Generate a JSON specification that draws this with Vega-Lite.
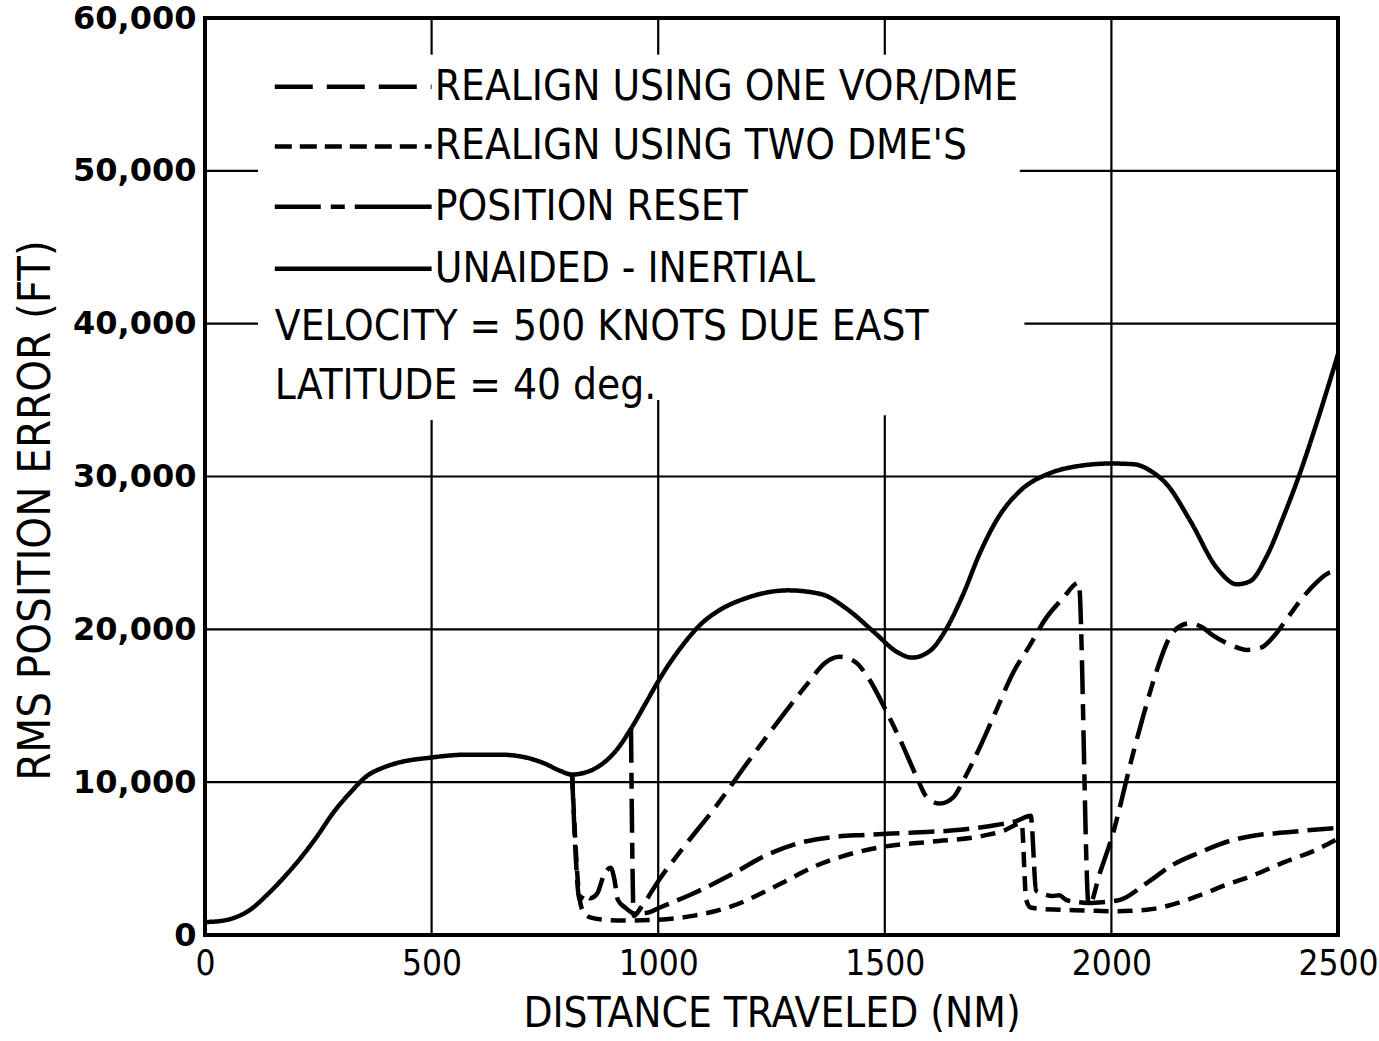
{
  "$schema": "https://vega.github.io/schema/vega-lite/v6.json",
  "width": 1133,
  "height": 917,
  "autosize": {"type": "none"},
  "padding": {"left": 205, "top": 18, "right": 41, "bottom": 106},
  "background": "white",
  "config": {
    "view": {"stroke": "black", "strokeWidth": 4},
    "text": {"font": "DejaVu Sans Condensed, sans-serif", "fontSize": 42, "color": "black"}
  },
  "datasets": {
    "grid": [
      {"x": 500, "x2": 500, "y": 0, "y2": 33700},
      {"x": 500, "x2": 500, "y": 57600, "y2": 60000},
      {"x": 1000, "x2": 1000, "y": 0, "y2": 35000},
      {"x": 1000, "x2": 1000, "y": 57600, "y2": 60000},
      {"x": 1500, "x2": 1500, "y": 0, "y2": 34000},
      {"x": 1500, "x2": 1500, "y": 57600, "y2": 60000},
      {"x": 2000, "x2": 2000, "y": 0, "y2": 60000},
      {"x": 0, "x2": 2500, "y": 10000, "y2": 10000},
      {"x": 0, "x2": 2500, "y": 20000, "y2": 20000},
      {"x": 0, "x2": 2500, "y": 30000, "y2": 30000},
      {"x": 0, "x2": 117, "y": 40000, "y2": 40000},
      {"x": 1808, "x2": 2500, "y": 40000, "y2": 40000},
      {"x": 0, "x2": 117, "y": 50000, "y2": 50000},
      {"x": 1798, "x2": 2500, "y": 50000, "y2": 50000}
    ],
    "curves": [
      {"s": "inertial", "d": 0, "v": 850}, {"s": "inertial", "d": 30, "v": 900}, {"s": "inertial", "d": 62, "v": 1100}, {"s": "inertial", "d": 99, "v": 1640},
      {"s": "inertial", "d": 136, "v": 2600}, {"s": "inertial", "d": 172, "v": 3700}, {"s": "inertial", "d": 210, "v": 5000}, {"s": "inertial", "d": 246, "v": 6400},
      {"s": "inertial", "d": 283, "v": 8000}, {"s": "inertial", "d": 320, "v": 9300}, {"s": "inertial", "d": 357, "v": 10400}, {"s": "inertial", "d": 393, "v": 10950},
      {"s": "inertial", "d": 430, "v": 11300}, {"s": "inertial", "d": 496, "v": 11600}, {"s": "inertial", "d": 577, "v": 11800}, {"s": "inertial", "d": 651, "v": 11800},
      {"s": "inertial", "d": 702, "v": 11650}, {"s": "inertial", "d": 747, "v": 11250}, {"s": "inertial", "d": 783, "v": 10750}, {"s": "inertial", "d": 810, "v": 10500},
      {"s": "inertial", "d": 835, "v": 10600}, {"s": "inertial", "d": 872, "v": 11100}, {"s": "inertial", "d": 908, "v": 12100}, {"s": "inertial", "d": 940, "v": 13500},
      {"s": "inertial", "d": 975, "v": 15300}, {"s": "inertial", "d": 1000, "v": 16600}, {"s": "inertial", "d": 1055, "v": 19000}, {"s": "inertial", "d": 1100, "v": 20500},
      {"s": "inertial", "d": 1127, "v": 21100}, {"s": "inertial", "d": 1200, "v": 22100}, {"s": "inertial", "d": 1287, "v": 22550}, {"s": "inertial", "d": 1360, "v": 22300},
      {"s": "inertial", "d": 1418, "v": 21300}, {"s": "inertial", "d": 1477, "v": 19800}, {"s": "inertial", "d": 1528, "v": 18500}, {"s": "inertial", "d": 1560, "v": 18150},
      {"s": "inertial", "d": 1600, "v": 18600}, {"s": "inertial", "d": 1637, "v": 20100}, {"s": "inertial", "d": 1673, "v": 22300}, {"s": "inertial", "d": 1710, "v": 25000},
      {"s": "inertial", "d": 1750, "v": 27300}, {"s": "inertial", "d": 1800, "v": 29100}, {"s": "inertial", "d": 1863, "v": 30200}, {"s": "inertial", "d": 1920, "v": 30650},
      {"s": "inertial", "d": 2000, "v": 30850}, {"s": "inertial", "d": 2050, "v": 30800}, {"s": "inertial", "d": 2090, "v": 30300}, {"s": "inertial", "d": 2122, "v": 29500},
      {"s": "inertial", "d": 2174, "v": 27100}, {"s": "inertial", "d": 2233, "v": 24000}, {"s": "inertial", "d": 2277, "v": 22950}, {"s": "inertial", "d": 2306, "v": 23150},
      {"s": "inertial", "d": 2343, "v": 24800}, {"s": "inertial", "d": 2380, "v": 27400}, {"s": "inertial", "d": 2417, "v": 30300}, {"s": "inertial", "d": 2454, "v": 33600},
      {"s": "inertial", "d": 2500, "v": 38000},

      {"s": "reset", "d": 940, "v": 13500}, {"s": "reset", "d": 946, "v": 1250}, {"s": "reset", "d": 962, "v": 1800}, {"s": "reset", "d": 1004, "v": 3700},
      {"s": "reset", "d": 1055, "v": 5700}, {"s": "reset", "d": 1127, "v": 8400}, {"s": "reset", "d": 1200, "v": 11400}, {"s": "reset", "d": 1273, "v": 14300},
      {"s": "reset", "d": 1331, "v": 16500}, {"s": "reset", "d": 1368, "v": 17800}, {"s": "reset", "d": 1400, "v": 18200}, {"s": "reset", "d": 1433, "v": 17900},
      {"s": "reset", "d": 1462, "v": 16900}, {"s": "reset", "d": 1499, "v": 14900}, {"s": "reset", "d": 1535, "v": 12700}, {"s": "reset", "d": 1571, "v": 10300},
      {"s": "reset", "d": 1593, "v": 9000}, {"s": "reset", "d": 1622, "v": 8600}, {"s": "reset", "d": 1651, "v": 9000}, {"s": "reset", "d": 1673, "v": 10100},
      {"s": "reset", "d": 1710, "v": 12300}, {"s": "reset", "d": 1746, "v": 14700}, {"s": "reset", "d": 1782, "v": 17100}, {"s": "reset", "d": 1819, "v": 18900},
      {"s": "reset", "d": 1855, "v": 20700}, {"s": "reset", "d": 1892, "v": 22000}, {"s": "reset", "d": 1928, "v": 23050}, {"s": "reset", "d": 1950, "v": 1900},
      {"s": "reset", "d": 1975, "v": 4100}, {"s": "reset", "d": 2001, "v": 6400}, {"s": "reset", "d": 2048, "v": 11900}, {"s": "reset", "d": 2070, "v": 14300},
      {"s": "reset", "d": 2100, "v": 17300}, {"s": "reset", "d": 2129, "v": 19500}, {"s": "reset", "d": 2151, "v": 20200}, {"s": "reset", "d": 2173, "v": 20400},
      {"s": "reset", "d": 2202, "v": 20100}, {"s": "reset", "d": 2224, "v": 19600}, {"s": "reset", "d": 2262, "v": 19000}, {"s": "reset", "d": 2299, "v": 18650},
      {"s": "reset", "d": 2330, "v": 18800}, {"s": "reset", "d": 2360, "v": 19600}, {"s": "reset", "d": 2390, "v": 20800}, {"s": "reset", "d": 2420, "v": 22000},
      {"s": "reset", "d": 2454, "v": 23100}, {"s": "reset", "d": 2480, "v": 23700}, {"s": "reset", "d": 2500, "v": 23800},

      {"s": "vor", "d": 810, "v": 10500}, {"s": "vor", "d": 827, "v": 2300}, {"s": "vor", "d": 838, "v": 2700}, {"s": "vor", "d": 849, "v": 2400},
      {"s": "vor", "d": 865, "v": 2700}, {"s": "vor", "d": 880, "v": 3900}, {"s": "vor", "d": 895, "v": 4400}, {"s": "vor", "d": 903, "v": 3700},
      {"s": "vor", "d": 911, "v": 2300}, {"s": "vor", "d": 927, "v": 1800}, {"s": "vor", "d": 949, "v": 1400}, {"s": "vor", "d": 975, "v": 1450},
      {"s": "vor", "d": 1004, "v": 1800}, {"s": "vor", "d": 1076, "v": 2700}, {"s": "vor", "d": 1164, "v": 4000}, {"s": "vor", "d": 1237, "v": 5200},
      {"s": "vor", "d": 1309, "v": 6000}, {"s": "vor", "d": 1382, "v": 6400}, {"s": "vor", "d": 1455, "v": 6550}, {"s": "vor", "d": 1564, "v": 6700},
      {"s": "vor", "d": 1673, "v": 6900}, {"s": "vor", "d": 1746, "v": 7200}, {"s": "vor", "d": 1790, "v": 7450}, {"s": "vor", "d": 1822, "v": 7800},
      {"s": "vor", "d": 1834, "v": 2900}, {"s": "vor", "d": 1845, "v": 2750}, {"s": "vor", "d": 1870, "v": 2550}, {"s": "vor", "d": 1885, "v": 2600},
      {"s": "vor", "d": 1900, "v": 2300}, {"s": "vor", "d": 1925, "v": 2150}, {"s": "vor", "d": 1950, "v": 2100}, {"s": "vor", "d": 1980, "v": 2150},
      {"s": "vor", "d": 2019, "v": 2300}, {"s": "vor", "d": 2078, "v": 3400}, {"s": "vor", "d": 2136, "v": 4600}, {"s": "vor", "d": 2195, "v": 5400},
      {"s": "vor", "d": 2255, "v": 6100}, {"s": "vor", "d": 2313, "v": 6500}, {"s": "vor", "d": 2380, "v": 6700}, {"s": "vor", "d": 2454, "v": 6900},
      {"s": "vor", "d": 2500, "v": 7000},

      {"s": "dme", "d": 810, "v": 10500}, {"s": "dme", "d": 826, "v": 2500}, {"s": "dme", "d": 835, "v": 1500}, {"s": "dme", "d": 850, "v": 1150},
      {"s": "dme", "d": 880, "v": 1000}, {"s": "dme", "d": 920, "v": 950}, {"s": "dme", "d": 1000, "v": 1000}, {"s": "dme", "d": 1076, "v": 1250},
      {"s": "dme", "d": 1164, "v": 1900}, {"s": "dme", "d": 1273, "v": 3400}, {"s": "dme", "d": 1346, "v": 4500}, {"s": "dme", "d": 1418, "v": 5250},
      {"s": "dme", "d": 1491, "v": 5750}, {"s": "dme", "d": 1600, "v": 6100}, {"s": "dme", "d": 1710, "v": 6450}, {"s": "dme", "d": 1760, "v": 6800},
      {"s": "dme", "d": 1802, "v": 7300}, {"s": "dme", "d": 1812, "v": 2300}, {"s": "dme", "d": 1822, "v": 1800}, {"s": "dme", "d": 1850, "v": 1700},
      {"s": "dme", "d": 1950, "v": 1600}, {"s": "dme", "d": 2004, "v": 1550}, {"s": "dme", "d": 2078, "v": 1650}, {"s": "dme", "d": 2136, "v": 2000},
      {"s": "dme", "d": 2195, "v": 2600}, {"s": "dme", "d": 2255, "v": 3300}, {"s": "dme", "d": 2313, "v": 3900}, {"s": "dme", "d": 2380, "v": 4750},
      {"s": "dme", "d": 2454, "v": 5600}, {"s": "dme", "d": 2500, "v": 6300}
    ]
  },
  "layer": [
    {
      "data": {"name": "grid"},
      "mark": {"type": "rule", "color": "black", "strokeWidth": 2.2},
      "encoding": {
        "x": {
          "field": "x", "type": "quantitative",
          "scale": {"domain": [0, 2500], "nice": false, "zero": false},
          "axis": {
            "title": "DISTANCE TRAVELED (NM)", "values": [0, 500, 1000, 1500, 2000, 2500], "format": "d",
            "grid": false, "ticks": false, "domain": false, "labelFlush": false, "labelOverlap": false,
            "labelFont": "DejaVu Sans Condensed, sans-serif", "labelFontSize": 35, "labelColor": "black", "labelPadding": 11,
            "titleFont": "DejaVu Sans Condensed, sans-serif", "titleFontSize": 42, "titleFontWeight": "normal", "titleColor": "black", "titlePadding": 12
          }
        },
        "x2": {"field": "x2"},
        "y": {
          "field": "y", "type": "quantitative",
          "scale": {"domain": [0, 60000], "nice": false, "zero": true},
          "axis": {
            "title": "RMS POSITION ERROR (FT)", "values": [0, 10000, 20000, 30000, 40000, 50000, 60000], "format": ",d",
            "grid": false, "ticks": false, "domain": false, "labelFlush": false, "labelOverlap": false,
            "labelFont": "DejaVu Sans", "labelFontWeight": "bold", "labelFontSize": 32, "labelColor": "black", "labelPadding": 9,
            "titleFont": "DejaVu Sans Condensed, sans-serif", "titleFontSize": 45, "titleFontWeight": "normal", "titleColor": "black", "titlePadding": 14, "titleY": 492
          }
        },
        "y2": {"field": "y2"}
      }
    },
    {
      "data": {"name": "curves"},
      "mark": {"type": "line", "color": "black", "strokeWidth": 4.5, "interpolate": "monotone"},
      "encoding": {
        "x": {"field": "d", "type": "quantitative"},
        "y": {"field": "v", "type": "quantitative"},
        "strokeDash": {
          "field": "s", "type": "nominal", "legend": null,
          "scale": {"domain": ["inertial", "reset", "vor", "dme"], "range": [[1, 0], [34, 10, 16, 10], [26, 9], [15, 9]]}
        }
      }
    },
    {
      "data": {"values": [{}]},
      "mark": {"type": "rule", "color": "black", "strokeWidth": 4.5, "strokeDash": [38, 14]},
      "encoding": {"x": {"datum": 154}, "x2": {"datum": 500}, "y": {"datum": 55500}}
    },
    {
      "data": {"values": [{}]},
      "mark": {"type": "rule", "color": "black", "strokeWidth": 4.5, "strokeDash": [17, 8]},
      "encoding": {"x": {"datum": 154}, "x2": {"datum": 500}, "y": {"datum": 51600}}
    },
    {
      "data": {"values": [{}]},
      "mark": {"type": "rule", "color": "black", "strokeWidth": 4.5, "strokeDash": [46, 10, 14, 10, 200, 0]},
      "encoding": {"x": {"datum": 154}, "x2": {"datum": 500}, "y": {"datum": 47650}}
    },
    {
      "data": {"values": [{}]},
      "mark": {"type": "rule", "color": "black", "strokeWidth": 4.5},
      "encoding": {"x": {"datum": 154}, "x2": {"datum": 500}, "y": {"datum": 43600}}
    },
    {
      "data": {"values": [{}]},
      "mark": {"type": "text", "text": "REALIGN USING ONE VOR/DME", "align": "left", "baseline": "middle"},
      "encoding": {"x": {"datum": 507}, "y": {"datum": 55500}}
    },
    {
      "data": {"values": [{}]},
      "mark": {"type": "text", "text": "REALIGN USING TWO DME'S", "align": "left", "baseline": "middle"},
      "encoding": {"x": {"datum": 507}, "y": {"datum": 51600}}
    },
    {
      "data": {"values": [{}]},
      "mark": {"type": "text", "text": "POSITION RESET", "align": "left", "baseline": "middle"},
      "encoding": {"x": {"datum": 507}, "y": {"datum": 47650}}
    },
    {
      "data": {"values": [{}]},
      "mark": {"type": "text", "text": "UNAIDED - INERTIAL", "align": "left", "baseline": "middle"},
      "encoding": {"x": {"datum": 507}, "y": {"datum": 43600}}
    },
    {
      "data": {"values": [{}]},
      "mark": {"type": "text", "text": "VELOCITY = 500 KNOTS DUE EAST", "align": "left", "baseline": "middle"},
      "encoding": {"x": {"datum": 154}, "y": {"datum": 39800}}
    },
    {
      "data": {"values": [{}]},
      "mark": {"type": "text", "text": "LATITUDE = 40 deg.", "align": "left", "baseline": "middle"},
      "encoding": {"x": {"datum": 154}, "y": {"datum": 35900}}
    }
  ]
}
